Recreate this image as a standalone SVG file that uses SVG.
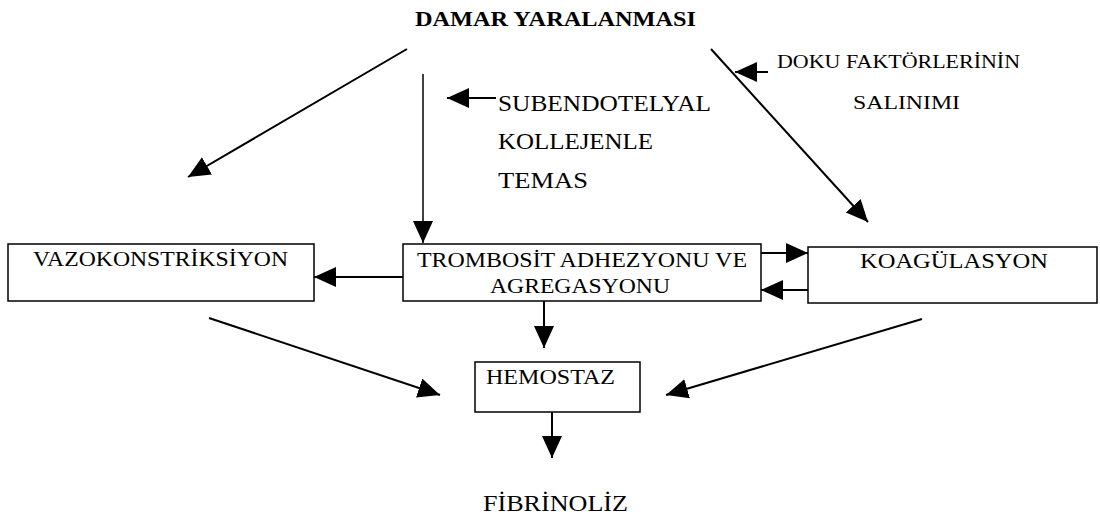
<svg xmlns="http://www.w3.org/2000/svg" width="1100" height="523" viewBox="0 0 1100 523">
<style>
.t{font-family:"Liberation Serif","Times New Roman",serif;font-size:22px;fill:#000}
.b{font-weight:bold;font-size:21px}
.s{font-size:18px}
.m{font-size:23px}
.box{fill:#fff;stroke:#000;stroke-width:1.5}
.c{stroke:#000;stroke-width:2;fill:none;marker-end:url(#ah)}
.v{stroke-width:1.5}
</style>
<defs>
<marker id="ah" markerUnits="userSpaceOnUse" markerWidth="24" markerHeight="22" refX="22" refY="10" orient="auto">
<path d="M0,0 L22,10 L0,20 z" fill="#000"/>
</marker>
</defs>
<rect width="1100" height="523" fill="#fff"/>
<g id="connectors">
<line class="c" x1="407" y1="49" x2="188" y2="177"/>
<line class="c v" x1="423" y1="74" x2="423" y2="243"/>
<line class="c" x1="496" y1="98" x2="447" y2="98"/>
<line class="c" x1="711" y1="49" x2="868" y2="222"/>
<line class="c" x1="768" y1="72" x2="735" y2="72"/>
<line class="c" x1="403" y1="277" x2="314" y2="277"/>
<line class="c" x1="757" y1="253" x2="808" y2="253"/>
<line class="c" x1="808" y1="290" x2="761" y2="290"/>
<line class="c" x1="544" y1="301" x2="544" y2="348"/>
<line class="c" x1="209" y1="318" x2="440" y2="395"/>
<line class="c" x1="922" y1="319" x2="666" y2="395"/>
<line class="c" x1="552" y1="412" x2="552" y2="458"/>
</g>
<g id="damar">
<text class="t b" x="415" y="26" textLength="281" lengthAdjust="spacingAndGlyphs">DAMAR YARALANMASI</text>
</g>
<g id="subendotelyal">
<text class="t m" x="498" y="111" textLength="213" lengthAdjust="spacingAndGlyphs">SUBENDOTELYAL</text>
<text class="t m" x="498" y="149" textLength="155" lengthAdjust="spacingAndGlyphs">KOLLEJENLE</text>
<text class="t m" x="498" y="188" textLength="90" lengthAdjust="spacingAndGlyphs">TEMAS</text>
</g>
<g id="doku">
<text class="t s" x="777" y="68" textLength="243" lengthAdjust="spacingAndGlyphs">DOKU  FAKTÖRLERİNİN</text>
<text class="t s" x="853" y="109" textLength="107" lengthAdjust="spacingAndGlyphs">SALINIMI</text>
</g>
<g id="vazo">
<rect class="box" x="8" y="244" width="306" height="57"/>
<text class="t" x="33" y="266" textLength="255" lengthAdjust="spacingAndGlyphs">VAZOKONSTRİKSİYON</text>
</g>
<g id="trombosit">
<rect class="box" x="403" y="244" width="358" height="57"/>
<text class="t" x="417" y="267" textLength="330" lengthAdjust="spacingAndGlyphs">TROMBOSİT ADHEZYONU VE</text>
<text class="t" x="490" y="293" textLength="180" lengthAdjust="spacingAndGlyphs">AGREGASYONU</text>
</g>
<g id="koagulasyon">
<rect class="box" x="808" y="247" width="289" height="56"/>
<text class="t" x="860" y="268" textLength="188" lengthAdjust="spacingAndGlyphs">KOAGÜLASYON</text>
</g>
<g id="hemostaz">
<rect class="box" x="475" y="362" width="165" height="50"/>
<text class="t" x="486" y="384" textLength="129" lengthAdjust="spacingAndGlyphs">HEMOSTAZ</text>
</g>
<g id="fibrinoliz">
<text class="t m" x="483" y="511" textLength="145" lengthAdjust="spacingAndGlyphs">FİBRİNOLİZ</text>
</g>
</svg>
